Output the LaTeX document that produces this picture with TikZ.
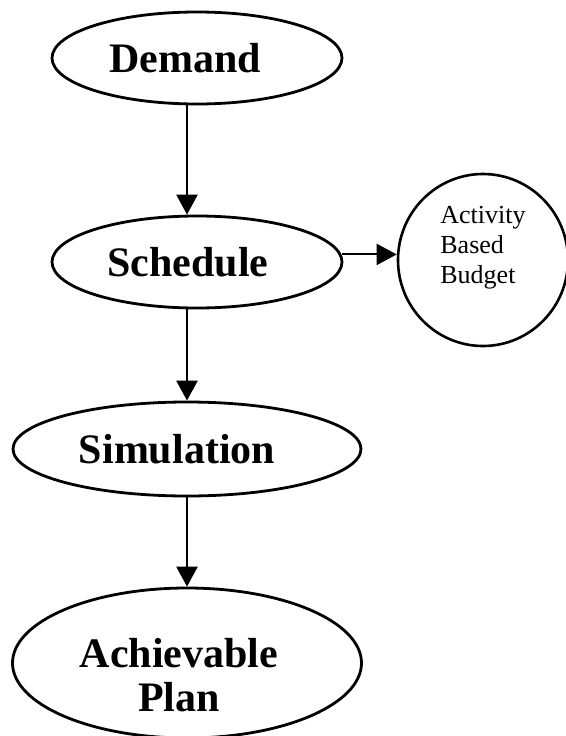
\documentclass[tikz,border=0pt]{standalone}
\usepackage{fontspec}
\setmainfont{Liberation Serif}
\usetikzlibrary{arrows.meta,shapes,positioning}
\tikzstyle{stage} =[ellipse, draw, line width=2.8pt, inner sep=0pt,
                    align=center, font=\fontsize{42}{44}\selectfont\bfseries]
\tikzstyle{output}=[ellipse, draw, line width=2.6pt, inner sep=0pt,
                    align=left, font=\fontsize{26}{30}\selectfont]
\tikzstyle{edge}  =[-{Triangle[length=20pt, width=21pt]}, line width=2.6pt]

\begin{document}
\begin{tikzpicture}[x=1pt, y=-1pt]
    \useasboundingbox (0,0) rectangle (565,736);
    \node (demand) [stage, minimum width=290pt, minimum height=92pt] at (197,58) {Demand\kern24pt};
    \node (sched) [stage, minimum width=290pt, minimum height=92pt] at (197,262) {Schedule\kern18pt};
    \node (sim) [stage, minimum width=348pt, minimum height=94pt] at (187,449) {Simulation\kern20pt};
    \node (plan) [stage, minimum width=349pt, minimum height=150pt] at (187,663)
        {\rule{0pt}{54pt}Achievable\kern16pt\\Plan\kern16pt};
    \node (abb) [output, minimum width=170pt, minimum height=172pt, text depth=30pt] at (483,260) {Activity\\Based\\Budget};
    \draw[edge] (demand.south -| sim.north) -- (sched.north -| sim.north);
    \draw[edge] (sched.south -| sim.north) -- (sim.north);
    \draw[edge] (sim.south) -- (plan.north);
    \draw[edge, line width=2pt] (sched.3.6) -- (abb.west |- sched.3.6);
\end{tikzpicture}
\end{document}
